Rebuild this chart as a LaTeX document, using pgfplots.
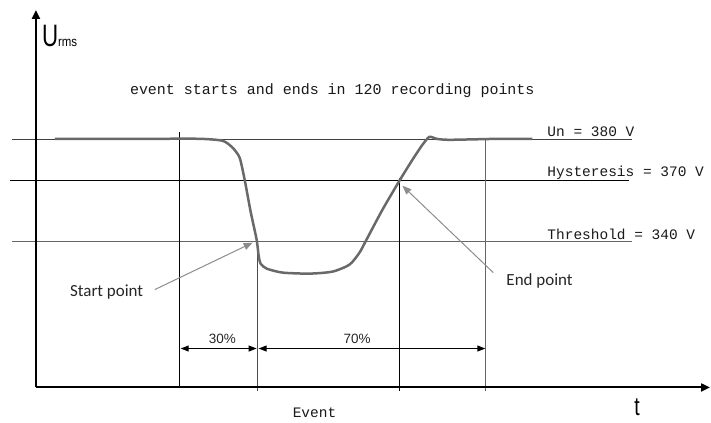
\documentclass[border=0pt]{standalone}
\usepackage{pgfplots}
\pgfplotsset{compat=1.18}
\usepackage{fontspec}
\setmainfont{Liberation Sans}
\newfontfamily\monof{Liberation Mono}
\newfontfamily\calib{Carlito}
\usetikzlibrary{arrows.meta}
\definecolor{curve}{RGB}{105,105,105}
\begin{document}
\begin{tikzpicture}
\begin{axis}[
  scale only axis, width=711pt, height=423pt,
  xmin=0, xmax=711, ymin=0, ymax=423, y dir=reverse,
  hide axis, clip=false,
]
\path (axis cs:0,0) rectangle (axis cs:711,423);
% horizontal reference lines
\addplot[black!75, line width=1pt] coordinates {(12,140) (633,140)};
\addplot[black, line width=1pt] coordinates {(10,181) (630,181)};
\addplot[black!60, line width=1pt] coordinates {(12,242) (633,242)};
% vertical lines
\addplot[black, line width=0.9pt] coordinates {(180,132) (180,388)};
\addplot[black!70, line width=0.9pt] coordinates {(258,242) (258,392)};
\addplot[black, line width=0.9pt] coordinates {(400,178) (400,392)};
\addplot[black!60, line width=1pt] coordinates {(486,140) (486,392)};
% axes
\addplot[black, line width=2pt, -{Triangle[length=9pt,width=8pt]}] coordinates {(36,388) (36,10)};
\addplot[black, line width=2pt, -{Triangle[length=9pt,width=8pt]}] coordinates {(36,388) (711,388)};
% curve
\addplot[curve, line width=2.5pt, smooth, tension=0.4] coordinates {
(55,139) (150,139) (200,139) (223,141) (233,148) (240,158) (245,180) (251,212) (257,240)
(259,256) (261,264) (267,269) (283,273) (310,274) (333,272) (350,265) (360,253) (367,240)
(383,210) (400,181) (413,160) (423,145) (430,137) (437,139) (450,140) (500,139) (533,139)};
% dimension arrows
\addplot[black, line width=1pt, {Triangle[length=8pt,width=6pt]}-{Triangle[length=8pt,width=6pt]}] coordinates {(181,349) (257,349)};
\addplot[black, line width=1pt, {Triangle[length=8pt,width=6pt]}-{Triangle[length=8pt,width=6pt]}] coordinates {(259,349) (486,349)};
% pointer arrows
\addplot[black!45, line width=1pt, -{Triangle[length=9pt,width=7pt]}] coordinates {(155,290) (253,243)};
\addplot[black!45, line width=1pt, -{Triangle[length=9pt,width=7pt]}] coordinates {(494,273) (403,186)};
% texts
\node[anchor=base west, inner sep=0pt, font=\monof\fontsize{15}{17}\selectfont, text=black!90] at (axis cs:130,95) {event starts and ends in 120 recording points};
\node[anchor=base west, inner sep=0pt, font=\monof\fontsize{14.5}{16}\selectfont, text=black!90] at (axis cs:548,137) {Un = 380 V};
\node[anchor=base west, inner sep=0pt, font=\monof\fontsize{14.5}{16}\selectfont, text=black!90] at (axis cs:548,177) {Hysteresis = 370 V};
\node[anchor=base west, inner sep=0pt, font=\monof\fontsize{14.5}{16}\selectfont, text=black!90] at (axis cs:548,240) {Threshold = 340 V};
\node[anchor=base west, inner sep=0pt, font=\monof\fontsize{14.5}{16}\selectfont, text=black!90] at (axis cs:293,418) {Event};
\node[anchor=base west, inner sep=0pt, font=\calib\fontsize{17}{19}\selectfont, text=black!85] at (axis cs:70,297) {Start point};
\node[anchor=base west, inner sep=0pt, font=\calib\fontsize{17}{19}\selectfont, text=black!85] at (axis cs:507,286) {End point};
\node[anchor=base west, inner sep=0pt, font=\fontsize{13.5}{15}\selectfont, text=black!85] at (axis cs:209,344) {30\%};
\node[anchor=base west, inner sep=0pt, font=\fontsize{13.5}{15}\selectfont, text=black!85] at (axis cs:344,344) {70\%};
\node[anchor=base west, inner sep=0pt, font=\fontsize{26}{28}\selectfont] at (axis cs:635,416) {\scalebox{0.75}[1]{t}};
\node[anchor=base west, inner sep=0pt, font=\fontsize{31}{33}\selectfont] at (axis cs:42,47) {\scalebox{0.72}[1]{U}};
\node[anchor=base west, inner sep=0pt, font=\fontsize{13.5}{15}\selectfont] at (axis cs:58,47) {\scalebox{0.85}[1]{rms}};
\end{axis}
\end{tikzpicture}
\end{document}
